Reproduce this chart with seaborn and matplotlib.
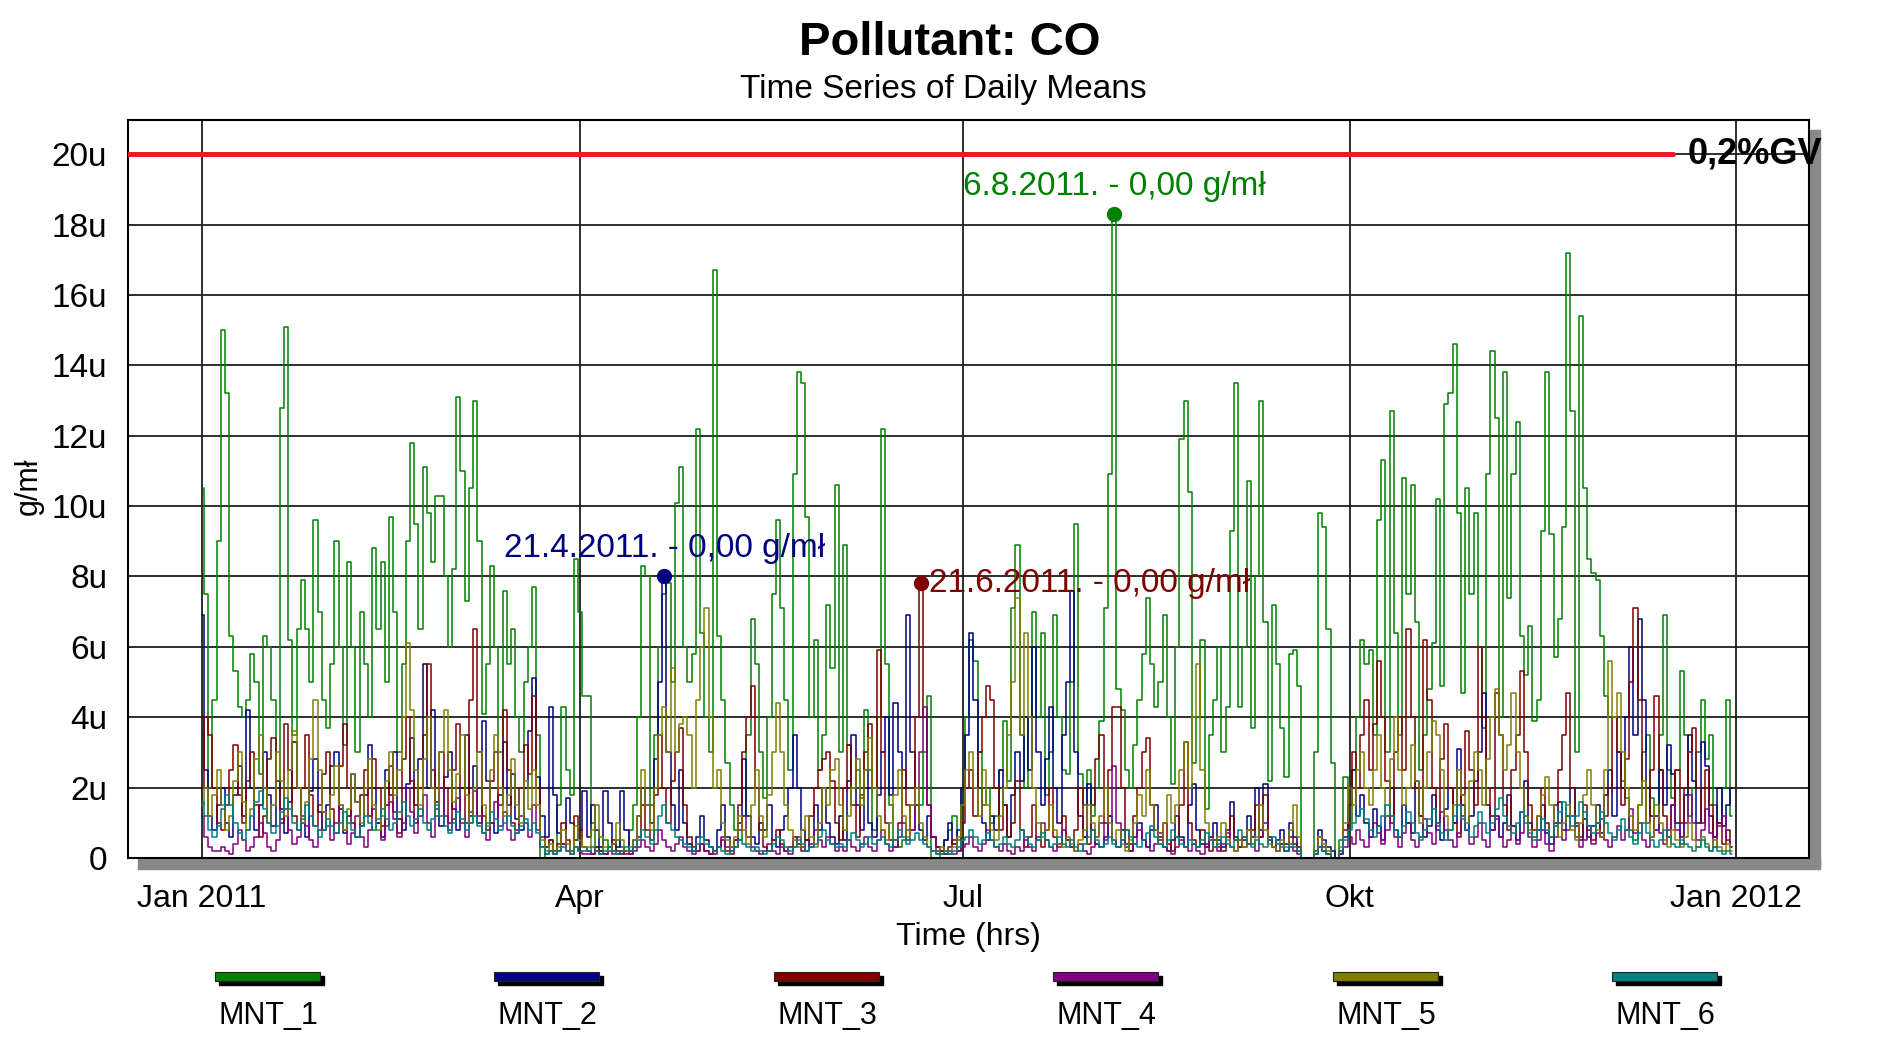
import numpy as np
import pandas as pd
import matplotlib
matplotlib.use("Agg")
import matplotlib.pyplot as plt
import matplotlib.dates as mdates
from matplotlib.patches import Rectangle
from matplotlib.ticker import FixedLocator, MultipleLocator, FuncFormatter
import seaborn as sns

# daily means, in micro g/ml (u)
stations = ["MNT_1", "MNT_2", "MNT_3", "MNT_4", "MNT_5", "MNT_6"]
colors = ["#008000", "#000080", "#800000", "#800080", "#808000", "#008080"]

mnt_1 = [
    10.5, 7.5, 2.0, 4.5, 9.0, 15.0, 13.2, 6.3, 5.3, 4.3,
    4.0, 4.5, 5.8, 5.0, 2.4, 6.3, 6.0, 4.5, 2.0, 12.8,
    15.1, 6.2, 3.5, 6.5, 7.9, 6.5, 5.0, 9.6, 7.0, 4.5,
    3.7, 5.5, 9.0, 6.0, 3.2, 8.4, 6.0, 3.0, 7.0, 5.5,
    4.0, 8.8, 6.5, 8.4, 5.0, 9.7, 7.0, 3.0, 5.5, 9.0,
    11.8, 9.5, 6.5, 11.1, 9.8, 8.4, 10.3, 10.3, 8.0, 6.0,
    8.2, 13.1, 11.0, 7.3, 10.5, 13.0, 9.0, 4.1, 5.5, 8.3,
    6.0, 3.0, 7.6, 5.5, 6.5, 4.0, 3.0, 5.0, 6.0, 7.7,
    3.5, 0.0, 0.3, 0.5, 0.2, 1.5, 4.3, 2.5, 1.8, 8.5,
    7.0, 4.6,
    4.6, 1.0, 0.3, 0.2, 0.5, 0.3, 0.2, 0.5, 0.3, 0.2,
    0.8, 1.5, 4.0, 8.3, 8.0, 1.5, 3.5, 6.0, 7.5, 7.8,
    5.0, 10.1, 11.1, 6.0, 5.0, 5.8, 12.2, 6.4, 4.0, 3.0,
    16.7, 6.3, 4.5, 2.7, 1.5, 0.8, 0.5, 1.2, 3.5, 6.8,
    5.5, 3.0, 1.7, 4.0, 7.5, 9.6, 7.1, 4.5, 2.5, 10.9,
    13.8, 13.5, 9.7, 4.0, 6.2, 2.5, 3.5, 7.2, 5.4, 10.6,
    3.0, 8.9, 3.2, 2.0, 2.5, 1.7, 4.2, 2.5, 0.8, 4.0,
    12.2, 5.5, 1.5, 0.5, 0.3, 0.5, 0.8, 1.5, 2.0, 1.5,
    3.0, 4.6, 0.0, 0.0, 0.2, 0.5, 0.8, 1.2, 0.5, 2.0,
    4.0,
    6.2, 5.6, 3.0, 1.5, 2.0, 1.0, 1.2, 2.5, 3.9, 2.2,
    7.1, 8.9, 3.5, 2.0, 4.0, 7.0, 4.0, 6.4, 1.8, 3.0,
    6.9, 4.0, 2.5, 2.4, 5.0, 9.5, 2.4, 1.5, 2.5, 1.2,
    2.0, 3.9, 7.1, 10.9, 18.3, 4.8, 4.2, 2.5, 2.0, 3.2,
    4.5, 5.8, 7.4, 5.5, 4.3, 5.0, 6.9, 4.0, 2.1, 6.0,
    11.9, 13.0, 10.4, 2.7, 4.0, 6.2, 1.4, 3.5, 4.5, 6.0,
    3.0, 4.3, 9.3, 13.5, 4.3, 6.0, 10.7, 3.7, 8.0, 13.0,
    6.7, 2.2, 7.2, 5.5, 3.7, 2.3, 5.8, 5.9, 4.9, 0.0,
    0.0, 0.0, 3.0, 9.8, 9.4, 6.5, 2.7, 0.0, 0.5, 2.3,
    1.0, 2.5, 4.0,
    6.2, 5.5, 5.9, 3.5, 9.6, 11.3, 3.0, 12.7, 6.4, 3.5,
    10.8, 7.5, 10.6, 6.7, 2.5, 3.5, 4.8, 6.1, 10.2, 4.9,
    12.9, 13.2, 14.6, 9.8, 4.7, 10.5, 7.5, 9.8, 6.0, 3.7,
    10.9, 14.4, 12.5, 4.0, 13.8, 7.4, 10.9, 12.4, 6.3, 5.2,
    6.6, 3.9, 4.5, 9.3, 13.8, 9.2, 5.7, 6.8, 9.4, 17.2,
    12.7, 3.0, 15.4, 10.5, 8.5, 8.1, 7.9, 6.3, 4.6, 4.0,
    4.0, 3.0, 2.2, 1.7, 0.8, 0.5, 1.5, 3.0, 3.5, 1.7,
    1.2, 3.5, 6.9, 2.5, 1.7, 2.5, 5.3, 3.5, 1.2, 2.0,
    3.0, 4.5, 2.8, 3.5, 1.5, 1.0, 2.0, 4.5, 1.2,
]

mnt_2 = [
    6.9, 2.5, 1.2, 0.8, 1.5, 2.0, 1.0, 0.6, 1.8, 2.6,
    1.2, 4.2, 2.0, 0.8, 1.5, 3.0, 1.8, 0.9, 2.2, 1.4,
    0.7, 1.6, 3.3, 2.0, 1.0, 0.6, 1.9, 2.8, 1.3, 0.8,
    1.5, 2.6, 3.0, 1.4, 0.7, 1.2, 2.4, 1.6, 0.9, 1.8,
    3.2, 2.0, 1.0, 0.6, 2.5, 1.8, 3.0, 1.1, 0.8, 2.1,
    3.4, 1.5, 2.8, 5.5, 2.0, 4.2, 1.6, 0.9, 2.3, 3.0,
    1.4, 0.8, 2.0, 3.5, 1.2, 2.6, 1.0, 3.9, 2.2, 1.0,
    0.7, 1.8, 3.3, 1.5, 2.4, 1.1, 0.8, 2.0, 3.6, 5.1,
    2.3, 1.2, 0.6, 4.3, 1.8, 0.7, 0.4, 1.7, 1.0, 0.5,
    0.8, 1.9,
    0.6, 1.5, 0.8, 0.3, 1.9, 1.0, 0.4, 0.3, 1.9, 0.8,
    0.2, 0.5, 1.2, 2.0, 1.5, 1.0, 2.8, 5.0, 8.0, 3.0,
    1.5, 0.8, 2.5, 1.0, 0.4, 0.2, 0.6, 1.2, 0.5, 0.3,
    0.2, 0.8, 1.5, 0.6, 0.3, 0.5, 1.0, 2.8, 1.2, 0.6,
    0.4, 1.0, 0.8, 1.5, 0.5, 0.3, 0.8, 1.2, 2.0, 3.5,
    2.0, 0.8, 0.5, 0.3, 1.5, 0.8, 2.0, 1.0, 0.6, 0.4,
    1.2, 0.5, 2.2, 3.5, 1.5, 0.8, 2.5, 1.0, 0.6, 1.8,
    3.0, 4.0, 1.8, 4.4, 3.0, 2.0, 6.9, 3.0, 1.5, 0.8,
    0.5, 1.2, 0.6, 0.3, 0.2, 0.5, 1.0, 0.4, 0.8, 2.0,
    3.5,
    6.4, 4.5, 2.0, 1.0, 0.5, 1.2, 0.8, 2.5, 1.5, 0.6,
    1.8, 3.0, 2.2, 4.0, 2.5, 6.0, 3.0, 1.5, 2.8, 4.3,
    2.0, 1.0, 3.5, 5.0, 7.6, 3.0, 1.2, 0.6, 2.1, 0.8,
    0.4, 0.3, 0.6, 1.2, 0.5, 0.3, 0.8, 0.4, 0.2, 0.6,
    1.0, 0.5, 0.3, 0.8, 1.5, 0.6, 0.3, 0.2, 0.5, 1.2,
    0.6, 0.3, 1.5, 2.1, 0.8, 0.4, 0.3, 0.6, 1.0, 0.5,
    0.3, 0.8, 1.6, 0.6, 0.3, 0.5, 1.2, 0.6, 2.0, 0.8,
    2.1, 0.6, 0.3, 0.5, 0.8, 0.4, 1.0, 0.6, 0.3, 0.0,
    0.0, 0.0, 0.2, 0.8, 0.5, 0.3, 0.2, 0.0, 0.1, 0.6,
    1.5, 2.5, 1.2,
    1.8, 1.0, 0.6, 1.4, 0.9, 0.5, 1.2, 2.0, 0.8, 0.6,
    1.5, 1.0, 0.7, 2.2, 1.2, 0.6, 0.9, 1.8, 0.8, 0.5,
    1.4, 2.0, 1.0, 3.1, 1.5, 0.8, 1.2, 2.2, 3.0, 4.7,
    1.5, 0.8, 1.2, 0.6, 1.0, 1.8, 0.9, 0.5, 1.3, 2.2,
    1.0, 0.6, 0.8, 1.5, 0.7, 0.4, 1.0, 1.6, 0.8, 1.2,
    2.0, 0.9, 0.5, 1.1, 0.6, 0.9, 1.5, 0.7, 1.8, 2.5,
    1.2, 3.0, 2.0, 4.0, 6.0, 3.5, 6.8, 4.5, 2.0, 1.2,
    0.8, 2.5, 1.5, 3.2, 2.4, 1.0, 0.6, 1.8, 3.5, 2.2,
    1.0, 3.3, 2.6, 1.2, 0.6, 2.0, 0.9, 1.5, 2.0,
]

mnt_3 = [
    2.0, 4.0, 3.5, 2.0, 1.0, 0.8, 1.5, 2.5, 3.2, 1.8,
    1.0, 2.2, 3.0, 1.5, 0.6, 1.2, 2.8, 3.4, 2.0, 1.0,
    3.8, 2.5, 1.2, 0.8, 2.0, 3.5, 1.8, 0.9, 1.5, 2.4,
    3.0, 1.4, 0.7, 2.6, 3.8, 2.0, 1.0, 0.6, 1.8, 2.5,
    1.2, 2.8, 2.0, 0.9, 1.5, 2.6, 1.3, 0.7, 2.8, 4.0,
    2.2, 1.0, 2.0, 3.5, 5.5, 2.5, 1.2, 3.0, 2.0, 1.0,
    2.5, 3.8, 2.0, 1.0, 4.5, 6.5, 3.0, 1.2, 0.8, 2.2,
    3.0, 1.5, 4.2, 2.5, 1.0, 0.8, 2.0, 3.2, 2.4, 4.6,
    2.0, 0.6, 0.3, 0.5, 0.2, 0.4, 1.0, 0.5, 0.2, 1.2,
    0.8, 0.3,
    0.2, 0.1, 0.3, 0.2, 0.1, 0.3, 0.5, 0.2, 0.1, 0.2,
    0.1, 0.3, 0.6, 1.5, 0.8, 0.5, 1.8, 3.5, 2.0, 1.0,
    2.2, 3.0, 3.7, 1.5, 0.6, 0.3, 0.2, 0.4, 0.2, 0.1,
    0.2, 0.3, 0.5, 0.2, 0.1, 0.3, 1.5, 3.0, 4.0, 4.9,
    2.0, 0.8, 0.3, 0.2, 0.5, 0.8, 0.4, 0.2, 0.3, 0.6,
    0.4, 0.2, 0.5, 1.2, 2.0, 2.5, 2.8, 3.0, 2.2, 1.0,
    0.5, 2.0, 3.2, 1.5, 0.6, 1.8, 3.0, 3.8, 2.0, 5.9,
    3.0, 1.0, 0.5, 0.3, 1.0, 2.5, 1.5, 0.8, 4.0, 7.8,
    4.0, 1.5, 0.6, 0.3, 0.2, 0.1, 0.3, 0.5, 0.2, 1.0,
    2.0,
    2.5, 1.2, 3.0, 4.0, 4.9, 4.5, 2.0, 0.8, 1.5, 0.6,
    1.0, 2.2, 0.8, 0.3, 0.6, 1.5, 0.5, 0.3, 0.8, 2.0,
    0.6, 0.3, 1.2, 0.5, 0.3, 0.8, 2.0, 0.6, 0.4, 1.5,
    2.8, 3.5, 1.0, 2.5, 4.3, 4.3, 2.0, 0.8, 0.4, 1.2,
    2.0, 3.0, 3.4, 1.5, 0.8, 0.5, 1.0, 0.4, 0.2, 0.6,
    1.5, 3.3, 1.0, 0.5, 0.3, 0.8, 0.4, 0.2, 0.5, 0.3,
    0.2, 0.6, 1.2, 0.5, 0.3, 0.6, 0.4, 0.8, 1.5, 0.6,
    1.8, 0.5, 0.3, 0.2, 0.4, 0.2, 0.6, 0.4, 0.2, 0.0,
    0.0, 0.0, 0.1, 0.3, 0.2, 0.1, 0.0, 0.0, 0.2, 0.8,
    1.5, 3.0, 2.0,
    3.5, 4.5, 2.5, 3.8, 5.6, 4.0, 2.2, 1.0, 3.0, 4.0,
    2.5, 6.5, 4.0, 2.0, 1.2, 6.2, 4.5, 2.0, 1.0, 2.8,
    3.8, 2.0, 1.0, 0.6, 1.8, 3.6, 2.5, 1.5, 6.0, 4.0,
    2.0, 1.2, 4.7, 3.5, 1.5, 0.8, 2.5, 3.5, 5.3, 3.0,
    1.5, 0.8, 1.2, 2.0, 1.0, 0.6, 1.5, 2.5, 3.5, 4.7,
    2.0, 1.0, 0.6, 1.5, 0.8, 0.5, 1.0, 0.6, 1.2, 2.0,
    4.0, 3.0, 1.5, 2.8, 5.0, 7.1, 4.5, 2.0, 1.0, 2.5,
    4.6, 2.5, 1.2, 0.6, 1.5, 2.5, 1.0, 2.0, 3.0, 3.7,
    2.0, 1.0, 2.5, 1.5, 0.6, 1.0, 0.4, 0.8, 0.3,
]

mnt_4 = [
    1.2, 0.6, 0.3, 0.2, 0.2, 0.3, 0.2, 0.1, 0.4, 0.8,
    0.5, 0.2, 0.3, 0.6, 1.0, 0.7, 0.3, 0.2, 0.5, 1.1,
    1.4, 0.8, 0.4, 0.6, 1.2, 0.9, 0.5, 0.3, 0.8, 1.3,
    0.9, 0.5, 1.0, 1.5, 0.8, 0.4, 0.7, 1.2, 0.6, 0.3,
    0.8, 1.4, 1.0, 0.5, 0.9, 1.6, 1.1, 0.6, 1.0, 2.0,
    1.3, 0.7, 1.2, 1.8, 1.0, 0.6, 1.4, 2.0, 1.2, 0.8,
    1.1, 1.7, 1.0, 0.6, 1.3, 1.9, 1.2, 0.7, 0.5, 1.0,
    1.6, 0.9, 1.3, 0.8, 0.5, 0.7, 1.2, 1.0, 0.6, 1.5,
    0.8, 0.3, 0.1, 0.2, 0.1, 0.2, 0.4, 0.2, 0.1, 0.3,
    0.2, 0.1,
    0.1, 0.1, 0.2, 0.1, 0.1, 0.2, 0.1, 0.1, 0.2, 0.1,
    0.1, 0.2, 0.3, 0.5, 0.3, 0.2, 0.4, 0.8, 0.5, 0.3,
    0.2, 0.4, 0.6, 0.3, 0.2, 0.1, 0.2, 0.4, 0.2, 0.1,
    0.1, 0.3, 0.6, 0.3, 0.2, 0.5, 0.8, 1.2, 0.6, 0.3,
    0.2, 0.1, 0.2, 0.4, 0.2, 0.1, 0.3, 0.2, 0.1, 0.3,
    0.6, 0.3, 0.2, 0.4, 0.8, 0.5, 0.3, 0.6, 0.4, 0.2,
    0.3, 0.2, 0.5, 0.3, 0.2, 0.4, 0.6, 0.3, 0.2, 0.5,
    0.8, 0.4, 0.2, 0.3, 0.6, 1.0, 0.5, 0.8, 2.0, 3.0,
    4.3, 1.5, 0.6, 0.2, 0.1, 0.1, 0.2, 0.1, 0.2, 0.3,
    0.4,
    0.6, 0.3, 0.2, 0.4, 0.8, 0.5, 0.3, 0.2, 0.4, 0.2,
    0.1, 0.3, 0.2, 0.5, 0.3, 0.2, 0.6, 1.0, 0.5, 0.3,
    0.2, 0.4, 0.8, 0.5, 0.3, 0.2, 0.4, 0.2, 0.1, 0.3,
    0.6, 1.0, 0.5, 1.2, 2.6, 1.0, 0.5, 0.3, 0.2, 0.4,
    0.8, 0.5, 0.3, 0.2, 0.4, 0.7, 0.3, 0.2, 0.1, 0.3,
    0.5, 0.3, 0.2, 0.4, 0.2, 0.1, 0.3, 0.6, 0.3, 0.2,
    0.4, 0.7, 0.3, 0.2, 0.5, 0.3, 0.8, 0.4, 0.2, 0.6,
    1.0, 0.5, 0.3, 0.2, 0.4, 0.2, 0.3, 0.2, 0.1, 0.0,
    0.0, 0.0, 0.1, 0.6, 0.3, 0.1, 0.0, 0.0, 0.1, 0.3,
    0.6, 0.4, 0.8,
    0.5, 0.3, 0.6, 1.0, 0.7, 0.4, 0.8, 1.2, 0.6, 0.3,
    0.7, 1.0, 0.5, 0.3, 0.6, 1.1, 0.7, 0.4, 0.9, 1.3,
    0.8, 0.5, 0.3, 0.7, 1.2, 0.8, 0.4, 0.6, 1.0, 0.5,
    0.3, 0.8, 1.1, 0.6, 0.3, 0.5, 0.9, 0.4, 0.7, 1.2,
    0.6, 0.3, 0.5, 0.8, 0.4, 0.2, 0.6, 1.0, 0.5, 0.8,
    1.2, 0.6, 0.3, 0.5, 0.9, 0.4, 0.7, 1.1, 0.5, 0.3,
    0.6, 0.9, 0.5, 0.8, 1.4, 0.7, 1.0, 0.5, 0.3, 0.6,
    1.2, 0.7, 0.4, 0.8, 1.5, 0.8, 0.4, 1.0, 1.8, 1.0,
    0.5, 0.8, 1.4, 0.7, 0.3, 0.9, 1.2, 0.5, 0.3,
]

mnt_5 = [
    1.5, 2.0, 1.2, 1.8, 2.5, 1.5, 0.8, 1.2, 2.2, 3.0,
    1.6, 0.8, 1.4, 2.8, 3.5, 2.0, 1.0, 1.5, 3.0, 2.2,
    1.2, 2.5, 3.6, 2.0, 1.0, 1.6, 2.8, 4.5, 2.5, 1.3,
    0.9, 1.8, 2.6, 1.5, 0.8, 1.4, 2.4, 1.6, 1.0, 2.0,
    2.8, 1.5, 0.8, 1.2, 2.2, 3.0, 1.8, 2.5, 4.0, 6.1,
    4.2, 2.5, 1.5, 2.8, 4.0, 2.0, 1.2, 3.0, 4.2, 2.5,
    1.6, 2.4, 3.5, 1.8, 1.0, 2.0, 3.0, 1.5, 0.9, 2.5,
    3.5, 2.0, 1.2, 1.8, 2.8, 1.5, 1.0, 2.2, 1.4, 2.5,
    1.5, 0.5, 0.2, 0.4, 0.2, 0.3, 0.8, 0.4, 0.2, 0.9,
    0.5, 0.3,
    0.3, 0.8, 1.5, 0.6, 0.3, 0.2, 0.4, 1.0, 0.5, 0.2,
    0.3, 0.5, 1.2, 2.5, 1.5, 0.8, 2.0, 3.5, 4.3, 3.0,
    5.4, 3.0, 3.8, 4.0, 3.5, 2.0, 4.5, 6.0, 7.1, 4.0,
    2.0, 2.5, 1.0, 0.5, 0.3, 0.6, 1.2, 0.8, 0.4, 1.5,
    2.5, 1.2, 0.6, 1.8, 3.0, 4.4, 3.0, 1.5, 0.8, 0.5,
    0.3, 0.8, 1.2, 0.6, 0.3, 1.0, 2.0, 1.5, 2.5, 2.8,
    1.5, 0.8, 1.2, 2.0, 2.8, 1.5, 2.5, 3.4, 2.0, 1.2,
    0.8, 0.5, 1.0, 1.8, 2.5, 1.2, 0.6, 1.5, 2.0, 1.0,
    0.6, 0.3, 0.2, 0.1, 0.3, 0.2, 0.1, 0.3, 0.6, 1.5,
    2.5,
    3.0, 2.0, 1.2, 2.5, 1.5, 0.8, 0.5, 1.2, 2.0, 3.5,
    5.0, 7.4, 3.5, 6.4, 4.0, 2.0, 1.0, 0.6, 0.8, 1.5,
    0.8, 0.4, 0.3, 0.6, 0.4, 0.2, 0.5, 0.8, 1.5, 1.0,
    0.6, 1.2, 2.0, 1.0, 0.5, 0.8, 0.4, 0.2, 0.5, 1.0,
    1.8, 1.2, 2.5, 1.5, 0.8, 0.4, 1.0, 1.8, 1.0, 1.5,
    2.5, 3.3, 2.0, 4.0, 5.5, 2.5, 1.0, 0.5, 0.3, 0.6,
    1.0, 0.5, 0.3, 0.2, 0.5, 0.3, 0.8, 0.4, 0.6, 1.5,
    0.8, 0.4, 0.3, 0.2, 0.5, 0.3, 0.8, 1.5, 0.6, 0.0,
    0.0, 0.0, 0.2, 0.6, 0.4, 0.2, 0.0, 0.0, 0.3, 1.0,
    2.0, 1.5, 2.5,
    3.0, 2.0, 1.5, 2.5, 3.5, 2.0, 1.2, 2.8, 4.0, 2.5,
    1.5, 2.0, 3.2, 2.2, 1.0, 2.0, 3.0, 3.9, 3.5, 2.5,
    1.2, 0.8, 1.5, 2.5, 1.8, 1.0, 2.2, 3.0, 2.5, 1.5,
    2.8, 4.0, 4.8, 3.5, 2.5, 3.2, 4.7, 3.0, 2.0, 1.2,
    0.8, 0.6, 1.2, 1.8, 2.3, 1.5, 0.9, 0.6, 1.0, 1.5,
    0.8, 0.5, 1.0, 1.8, 2.5, 1.5, 0.8, 0.6, 2.5, 5.6,
    4.0, 4.7, 3.0, 2.0, 1.2, 0.8, 1.5, 2.2, 1.0, 0.6,
    1.5, 1.0, 0.5, 0.3, 0.8, 0.5, 0.3, 0.6, 1.0, 0.5,
    0.3, 0.6, 0.4, 0.2, 0.5, 0.3, 0.2, 0.4, 0.2,
]

mnt_6 = [
    1.6, 1.2, 0.8, 0.6, 0.9, 1.4, 1.8, 1.5, 1.0, 0.7,
    0.5, 0.8, 1.2, 1.6, 1.9, 1.4, 1.0, 0.7, 0.9, 1.3,
    1.7, 1.4, 1.0, 0.8, 1.1, 1.5, 1.2, 0.9, 0.6, 0.8,
    1.1, 0.9, 0.7, 1.0, 1.3, 1.0, 0.8, 0.6, 0.9, 1.2,
    1.0, 0.8, 1.1, 1.4, 1.1, 0.8, 1.0, 1.3, 1.6, 1.2,
    0.9, 1.1, 1.4, 1.0, 0.8, 1.1, 1.5, 1.2, 0.9, 0.7,
    1.0, 1.3, 1.1, 0.8, 1.0, 1.2, 0.9, 0.7, 1.0, 1.3,
    1.1, 0.8, 1.0, 1.2, 0.9, 0.7, 0.9, 1.1, 0.8, 1.0,
    0.7, 0.3, 0.1, 0.2, 0.1, 0.2, 0.3, 0.2, 0.1, 0.3,
    0.2, 0.2,
    0.2, 0.3, 0.2, 0.1, 0.2, 0.3, 0.2, 0.1, 0.2, 0.3,
    0.2, 0.3, 0.5, 0.8, 0.6, 0.4, 0.8, 1.2, 1.5, 1.0,
    0.8, 0.6, 0.5, 0.4, 0.3, 0.2, 0.4, 0.6, 0.4, 0.3,
    0.2, 0.3, 0.2, 0.1, 0.2, 0.3, 0.5, 0.4, 0.3, 0.2,
    0.3, 0.2, 0.1, 0.2, 0.4, 0.6, 0.5, 0.3, 0.2, 0.3,
    0.5, 0.4, 0.2, 0.3, 0.4, 0.6, 0.8, 0.5, 0.4, 0.3,
    0.4, 0.3, 0.5, 0.7, 0.5, 0.3, 0.4, 0.6, 0.4, 0.5,
    0.6, 0.4, 0.3, 0.5, 0.8, 0.6, 0.4, 0.5, 0.7, 0.5,
    0.4, 0.3, 0.2, 0.1, 0.1, 0.2, 0.1, 0.2, 0.3, 0.5,
    0.6,
    0.8, 0.6, 0.4, 0.5, 0.7, 0.5, 0.3, 0.4, 0.6, 0.4,
    0.3, 0.5, 0.8, 0.6, 0.4, 0.3, 0.5, 0.7, 0.5, 0.3,
    0.4, 0.6, 0.4, 0.3, 0.5, 0.3, 0.2, 0.4, 0.6, 0.8,
    0.5, 0.3, 0.4, 0.6, 0.4, 0.3, 0.5, 0.8, 0.6, 0.4,
    0.3, 0.5, 0.7, 0.9, 0.6, 0.4, 0.3, 0.5, 0.8, 0.6,
    0.4, 0.3, 0.5, 0.4, 0.3, 0.5, 0.7, 0.5, 0.3, 0.4,
    0.6, 0.4, 0.3, 0.5, 0.8, 0.6, 0.4, 0.3, 0.5, 0.4,
    0.3, 0.5, 0.6, 0.4, 0.3, 0.2, 0.4, 0.3, 0.2, 0.0,
    0.0, 0.0, 0.1, 0.3, 0.2, 0.1, 0.0, 0.0, 0.2, 0.5,
    0.8, 1.0, 1.2,
    1.4, 1.1, 0.8, 0.6, 0.9, 1.2, 1.5, 1.2, 0.8, 0.6,
    0.9, 1.3, 1.0, 0.7, 0.5, 0.8, 1.1, 1.4, 1.0, 0.7,
    0.5, 0.8, 1.2, 1.5, 1.1, 0.8, 0.6, 0.9, 1.3, 1.0,
    0.7, 1.0, 1.4, 1.7, 1.2, 0.9, 0.7, 1.0, 1.3, 1.0,
    0.7, 0.5, 0.8, 1.1, 0.8, 0.6, 0.9, 1.3, 1.6, 1.2,
    0.9, 1.2, 1.6, 1.3, 0.9, 0.7, 1.0, 1.3, 1.0, 0.7,
    0.5, 0.8, 1.1, 0.8, 0.6, 0.4, 0.7, 1.0, 0.7, 0.5,
    0.3, 0.5, 0.8, 0.6, 0.4, 0.3, 0.5, 0.4, 0.3, 0.2,
    0.3, 0.5, 0.3, 0.2, 0.3, 0.2, 0.1, 0.2, 0.1,
]

series = [mnt_1, mnt_2, mnt_3, mnt_4, mnt_5, mnt_6]
dates = pd.date_range("2011-01-01", "2011-12-31", freq="D")
for s in series:
    assert len(s) == len(dates), len(s)

# labelled maxima
peak_stations = ["MNT_2", "MNT_3", "MNT_1"]
peak_dates = ["2011-04-21", "2011-06-21", "2011-08-06"]
peak_labels = ["21.4.2011. - 0,00 g/mł", "21.6.2011. - 0,00 g/mł", "6.8.2011. - 0,00 g/mł"]

gv_value = 20
gv_label = "0,2%GV"

quarter_dates = pd.to_datetime(["2011-01-01", "2011-04-01", "2011-07-01", "2011-10-01", "2012-01-01"])
quarter_labels = ["Jan 2011", "Apr", "Jul", "Okt", "Jan 2012"]

df = pd.DataFrame({
    "date": np.tile(dates, len(stations)),
    "station": np.repeat(stations, len(dates)),
    "value": np.concatenate(series),
})

sns.set_style("white")
plt.rcParams["font.family"] = ["Liberation Sans", "DejaVu Sans"]
plt.rcParams["text.color"] = "black"
plt.rcParams["axes.labelcolor"] = "black"
plt.rcParams["xtick.color"] = "black"
plt.rcParams["ytick.color"] = "black"

fig = plt.figure(figsize=(18.79, 10.44), dpi=100)
ax = fig.add_axes([0.0681, 0.1782, 0.8947, 0.7068])

sns.lineplot(data=df, x="date", y="value", hue="station", hue_order=stations,
             palette=dict(zip(stations, colors)), estimator=None,
             linewidth=1.1, drawstyle="steps-mid", legend=False, ax=ax)

ax.set_xlim(dates[0] - pd.Timedelta(days=17.6), dates[0] + pd.Timedelta(days=382.3))
ax.set_ylim(0, 20.97)

ax.xaxis.set_major_locator(FixedLocator(mdates.date2num(quarter_dates)))
ax.set_xticklabels(quarter_labels)
ax.xaxis.set_minor_locator(mdates.MonthLocator())
ax.yaxis.set_major_locator(MultipleLocator(2))
ax.yaxis.set_minor_locator(MultipleLocator(0.5))
ax.yaxis.set_major_formatter(FuncFormatter(lambda v, p: "0" if v == 0 else f"{v:g}u"))

ax.tick_params(axis="x", which="major", direction="out", length=13, width=1.2, pad=6, labelsize=23)
ax.tick_params(axis="x", which="minor", direction="in", length=4.5, width=1)
ax.tick_params(axis="y", which="major", direction="out", length=10, width=1.2, pad=5, labelsize=24)
ax.tick_params(axis="y", which="minor", direction="in", length=11, width=1)
ax.tick_params(which="both", top=False, right=False)

ax.grid(True, which="major", color="#1e1e1e", linewidth=1.3)
ax.set_axisbelow(True)
for sp in ax.spines.values():
    sp.set_visible(True)
    sp.set_color("black")
    sp.set_linewidth(1.5)

ax.set_xlabel("Time (hrs)", fontsize=23)
ax.xaxis.label.set_va("center")
ax.xaxis.set_label_coords(0.5, -0.107)
ax.set_ylabel("g/mł", fontsize=22)
ax.yaxis.label.set_va("center")
ax.yaxis.set_label_coords(-0.059, 0.504)

# guide value line
ax.axhline(gv_value, xmin=0, xmax=0.919, color="#ed1c24", linewidth=3.6, zorder=4)
ax.text(0.928, gv_value, gv_label, transform=ax.get_yaxis_transform(), fontsize=26,
        fontweight="bold", color="black", ha="left", va="center", clip_on=False, zorder=6)

# peak markers
label_offsets = {"MNT_2": (0, 20), "MNT_3": (6, 0), "MNT_1": (0, 20)}
label_ha = {"MNT_2": "center", "MNT_3": "left", "MNT_1": "center"}
for st, d, lab in zip(peak_stations, peak_dates, peak_labels):
    i = stations.index(st)
    day = dates.get_loc(pd.Timestamp(d))
    val = series[i][day]
    ax.plot(pd.Timestamp(d), val, "o", color=colors[i], markersize=10, zorder=5)
    ax.annotate(lab, (pd.Timestamp(d), val), xytext=label_offsets[st], textcoords="offset points",
                ha=label_ha[st], va="center", fontsize=24, color=colors[i], zorder=6)

# titles
fig.text(0.5056, 0.959, "Pollutant: CO", ha="center", va="center", fontsize=34, fontweight="bold")
fig.text(0.502, 0.914, "Time Series of Daily Means", ha="center", va="center", fontsize=24)

# drop shadow of the plot frame
fig.add_artist(Rectangle((0.9633, 0.1686), 0.0055, 0.7069, transform=fig.transFigure,
                         color="#888888", zorder=-1))
fig.add_artist(Rectangle((0.0734, 0.1677), 0.8954, 0.0105, transform=fig.transFigure,
                         color="#888888", zorder=-1))

# legend: swatch above label
leg_x = [0.1426, 0.2911, 0.4401, 0.5886, 0.7376, 0.8861]
sw_w, sw_h = 0.0559, 0.0086
for x, st, c in zip(leg_x, stations, colors):
    fig.add_artist(Rectangle((x - sw_w / 2 + 0.0021, 0.0642 - sw_h / 2 - 0.0038), sw_w, sw_h,
                             transform=fig.transFigure, color="black"))
    fig.add_artist(Rectangle((x - sw_w / 2, 0.0642 - sw_h / 2), sw_w, sw_h,
                             transform=fig.transFigure, facecolor=c, edgecolor="#222222", linewidth=0.8))
    fig.text(x, 0.0268, st, ha="center", va="center", fontsize=22)

fig.savefig("out.png", dpi=100)
